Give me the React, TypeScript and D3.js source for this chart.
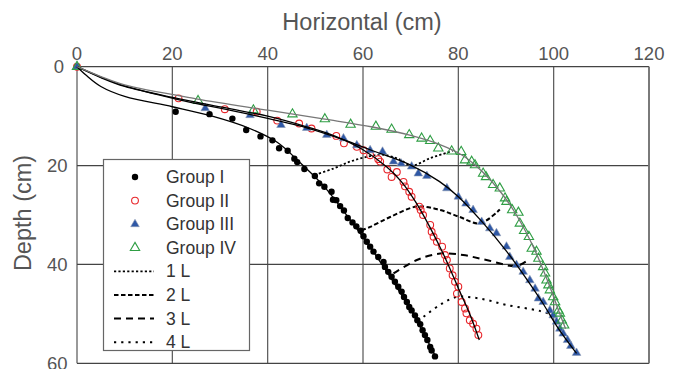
import React from "react";
import * as d3 from "d3";

type P = [number, number];

const xTicks = [0, 20, 40, 60, 80, 100, 120];
const yTicks = [0, 20, 40, 60];

const groupI: P[] = [
  [0, 0], [20.7, 9.1], [27.8, 9.6], [32.6, 10.5], [35.5, 12.8], [38.5, 14.1], [41, 14.9], [42.4, 16.5],
  [44.2, 17], [45.6, 18.6], [46.2, 19.3], [47.7, 20.7], [49.9, 22.1], [50.8, 23.6], [51.9, 24.3],
  [53.4, 25.3], [53.7, 26.9], [54.4, 27], [55.2, 28.2], [56, 29.1], [56.8, 30.6], [57.8, 31.5],
  [58.6, 32.3], [59.5, 33.2], [60.1, 34.3], [60.8, 35.4], [61.5, 36.4], [62.2, 37.4], [63.2, 38.5],
  [64.3, 39.5], [64.6, 40.5], [65.3, 41.5], [66, 42.5], [66.7, 43.5], [67.4, 44.5], [68.1, 45.5],
  [68.6, 46.6], [69.2, 47.6], [69.7, 48.6], [70.2, 49.3], [70.9, 50.3], [71.4, 51.3], [72, 52.1],
  [72.5, 53.3], [73, 54.3], [73.5, 55.3], [74.1, 56.7], [74.4, 57.4], [75.1, 58.6],
];

const groupII: P[] = [
  [0, 0], [21.3, 6.4], [31, 8.6], [37.7, 9.1], [42, 10.9], [46.6, 11.5], [49.2, 12.5], [54.4, 14],
  [56, 15.5], [58.7, 16.2], [60.1, 16.9], [61.5, 17.9], [63.2, 18.7], [63.6, 19.2], [65.1, 20.8],
  [67.1, 21.3], [66, 22.3], [68.5, 23.3], [68.8, 24.2], [69.7, 25.3], [70.2, 26.3], [71.8, 28.3],
  [72.1, 29], [72.6, 30], [74.1, 32], [74.4, 33.4], [74.8, 34.4], [75.5, 35.4], [76.6, 36.4],
  [77.2, 38.1], [77.6, 39.1], [78.2, 40.8], [78.8, 42.2], [79.3, 43.5], [80, 44.5], [79.7, 45.9],
  [80.7, 47.6], [81.4, 48.9], [81.7, 49.9], [82.4, 51.3], [83.1, 52], [83.8, 53], [84.2, 54.3],
];

const groupIII: P[] = [
  [0, 0], [26.9, 8.4], [36.3, 9.8], [42.8, 11.8], [48.2, 12.4], [52.4, 13.8], [55.9, 14.5],
  [58.7, 15.9], [61.5, 16.9], [64.1, 17.2], [66.4, 19.2], [68, 19.6], [70.2, 20.2], [71.6, 21.6],
  [73.4, 22.1], [77.6, 24.6], [80, 26.3], [81.6, 27.7], [83.1, 29], [84.9, 31.4], [86.6, 32.7],
  [88, 33.7], [90.1, 36.4], [90.8, 38.5], [92.2, 40.1], [93.6, 41.5], [95, 43.2], [96.1, 44.9],
  [96.8, 46.9], [97.8, 47.6], [99.2, 49.3], [99.9, 50.3], [100.6, 51.6], [101.3, 53], [102, 54],
  [102.9, 55.3], [103.6, 56.5], [104.8, 57.9],
];

const groupIV: P[] = [
  [0, 0], [25.4, 6.9], [37, 8.8], [45.2, 9.6], [52, 10.6], [57.4, 11.7], [62.7, 12.1], [66, 12.7],
  [69.7, 13.8], [72.3, 14.5], [74.1, 15], [75.8, 16.5], [78.6, 17.1], [80.6, 17.2], [81.4, 18.9],
  [82.8, 19.2], [83.5, 19.9], [85.2, 21.6], [85.8, 22.3], [87.3, 23.9], [88.7, 24.6], [89.8, 26.6],
  [90.1, 27.3], [91.3, 29], [92.6, 29.5], [92.9, 31.7], [93.8, 33.2], [94.8, 34.4], [95.4, 36.8],
  [96.4, 37.4], [96.8, 38.8], [97.8, 40.5], [98.2, 41.8], [98.5, 43.2], [98.9, 44.2], [99.2, 45.2],
  [99.9, 46.6], [100.3, 47.6], [101, 49.3], [101.3, 49.9], [101.7, 51.3], [102.2, 52.3],
];

const fitI: P[] = [
  [0, 0], [2, 1.8], [5, 4], [10, 6], [20, 8.1], [28, 9.9], [36, 12.4], [42, 15.3], [47, 19.6],
  [52, 24.4], [57, 30.6], [62, 37.2], [67, 44.5], [71, 50.8], [75.2, 58.6],
];
const fitII: P[] = [
  [0, 0], [5, 2.2], [10, 4], [21, 6.4], [31, 8.3], [40, 10], [48, 12.1], [54, 14], [60, 16.8],
  [65, 20.3], [68, 23.2], [71, 27.3], [74, 32.4], [77, 38.2], [80, 44.8], [82.5, 50.3], [84.4, 55.3],
];
const fitIII: P[] = [
  [0, 0], [5, 2.1], [10, 3.9], [21, 6.6], [36, 9.6], [48, 12.3], [56, 14.8], [62, 17], [70, 19.9],
  [76, 23.2], [80, 26.3], [85, 31.4], [90, 37.2], [94, 42.5], [97.5, 47.5], [101, 53], [104.8, 58],
];
const fitIV: P[] = [
  [0, 0], [5, 2], [10, 3.7], [25, 6.5], [40, 8.8], [52, 10.6], [62, 12.2], [70, 13.9], [76, 15.7],
  [81, 18], [85, 21.2], [89, 25.5], [92.5, 30.5], [96, 37], [99, 44], [101.3, 50], [102.5, 53],
];

const line1L: P[] = [
  [49.9, 21.9], [53.8, 20.6], [57.3, 19.2], [60.5, 18.3], [64, 17.8], [67.5, 18.7], [70.2, 20],
  [74.1, 18.5], [77.6, 17.4], [78.8, 17],
];
const line2L: P[] = [
  [59.7, 33.1], [61.5, 32.4], [65.7, 30.4], [71.3, 28.3], [76.2, 29], [80.3, 30.4], [84.5, 31.7], [88.7, 28.9],
];
const line3L: P[] = [
  [66.4, 41.8], [71.3, 39.1], [76.2, 37.8], [81, 38.1], [85.9, 39.1], [92.2, 40.3], [95, 38.8],
];
const line4L: P[] = [
  [72.7, 50.6], [76.1, 48.2], [79.6, 46.6], [84.5, 46.9], [90.1, 48.2], [97.1, 49.4], [99.9, 50.3],
];

const W = 674;
const H = 369;
const FONT = "'Liberation Sans', Arial, sans-serif";

const x = d3.scaleLinear().domain([0, 120]).range([77, 649]);
const y = d3.scaleLinear().domain([0, 60]).range([66.7, 363.3]);

const smooth = d3
  .line<P>()
  .x((d) => x(d[0]))
  .y((d) => y(d[1]))
  .curve(d3.curveCatmullRom.alpha(0.5));

const triPath = (size: number) => d3.symbol().type(d3.symbolTriangle).size(size)() as string;

const RED = "#e8262b";
const BLUE = "#2f58a6";
const GREEN = "#2f9e44";

const lStyles = [
  { name: "1 L", data: line1L, dash: "2.2,2.2", w: 1.8 },
  { name: "2 L", data: line2L, dash: "4.5,2.5", w: 2 },
  { name: "3 L", data: line3L, dash: "7,5", w: 2 },
  { name: "4 L", data: line4L, dash: "2.2,5", w: 2 },
];

function Marker({ g, cx, cy }: { g: number; cx: number; cy: number }) {
  if (g === 0) return <circle cx={cx} cy={cy} r={3.2} fill="#000" />;
  if (g === 1) return <circle cx={cx} cy={cy} r={3.4} fill="none" stroke={RED} strokeWidth={1.1} />;
  if (g === 2)
    return (
      <path d={triPath(32)} transform={`translate(${cx},${cy})`} fill={BLUE} stroke="#8d9ab3" strokeWidth={0.6} />
    );
  return <path d={triPath(38)} transform={`translate(${cx},${cy})`} fill="none" stroke={GREEN} strokeWidth={1.1} />;
}

export default function App() {
  const groups = [groupI, groupII, groupIII, groupIV];
  const legendNames = ["Group I", "Group II", "Group III", "Group IV"];
  const legY = (i: number) => 177 + i * 23.6;
  return (
    <div style={{ position: "absolute", left: 0, top: 0 }}>
      <svg width={W} height={H} style={{ display: "block", background: "#fff" }} fontFamily={FONT}>
        {/* grid */}
        {xTicks.map((t) => (
          <line key={"gx" + t} x1={x(t)} x2={x(t)} y1={y(0)} y2={y(60)} stroke="#555" strokeWidth={1.2} />
        ))}
        {yTicks.map((t) => (
          <line key={"gy" + t} x1={x(0)} x2={x(120)} y1={y(t)} y2={y(t)} stroke="#444" strokeWidth={1.2} />
        ))}
        <line x1={x(120)} x2={x(120)} y1={y(0)} y2={y(60)} stroke="#777" strokeWidth={1.8} />

        {/* tick labels */}
        {xTicks.map((t) => (
          <text key={"tx" + t} x={x(t)} y={60} textAnchor="middle" fontSize={18.5} fill="#555">
            {t}
          </text>
        ))}
        {yTicks.map((t) => (
          <text key={"ty" + t} x={t === 0 ? 64 : 67.5} y={y(t) + 6.5} textAnchor="end" fontSize={18.5} fill="#555">
            {t}
          </text>
        ))}

        {/* axis titles */}
        <text x={362} y={30} textAnchor="middle" fontSize={23.5} fill="#555">
          Horizontal (cm)
        </text>
        <text transform={`translate(31,213) rotate(-90)`} textAnchor="middle" fontSize={23.5} fill="#555">
          Depth (cm)
        </text>

        {/* L lines */}
        {lStyles.map((s) => (
          <path key={s.name} d={smooth(s.data) as string} fill="none" stroke="#000" strokeWidth={s.w} strokeDasharray={s.dash} />
        ))}

        {/* markers */}
        {groups.map((g, gi) =>
          g.map((p, i) => <Marker key={gi + "-" + i} g={gi} cx={x(p[0])} cy={y(p[1])} />)
        )}

        {/* fit curves */}
        <path d={smooth(fitI) as string} fill="none" stroke="#000" strokeWidth={1.3} />
        <path d={smooth(fitII) as string} fill="none" stroke="#000" strokeWidth={1.3} />
        <path d={smooth(fitIII) as string} fill="none" stroke="#000" strokeWidth={1.3} />
        <path d={smooth(fitIV) as string} fill="none" stroke="#777" strokeWidth={1.3} />

        {/* legend */}
        <rect x={103.5} y={159.5} width={146} height={191} fill="#fff" stroke="#666" strokeWidth={1.2} />
        {legendNames.map((n, i) => (
          <g key={n}>
            <Marker g={i} cx={135} cy={legY(i)} />
            <text x={166} y={legY(i) + 6} fontSize={17.5} fill="#333">
              {n}
            </text>
          </g>
        ))}
        {lStyles.map((s, i) => (
          <g key={"l" + s.name}>
            <line x1={114} x2={154} y1={legY(i + 4)} y2={legY(i + 4)} stroke="#000" strokeWidth={s.w} strokeDasharray={s.dash} />
            <text x={166} y={legY(i + 4) + 6} fontSize={17.5} fill="#333">
              {s.name}
            </text>
          </g>
        ))}
      </svg>
    </div>
  );
}
